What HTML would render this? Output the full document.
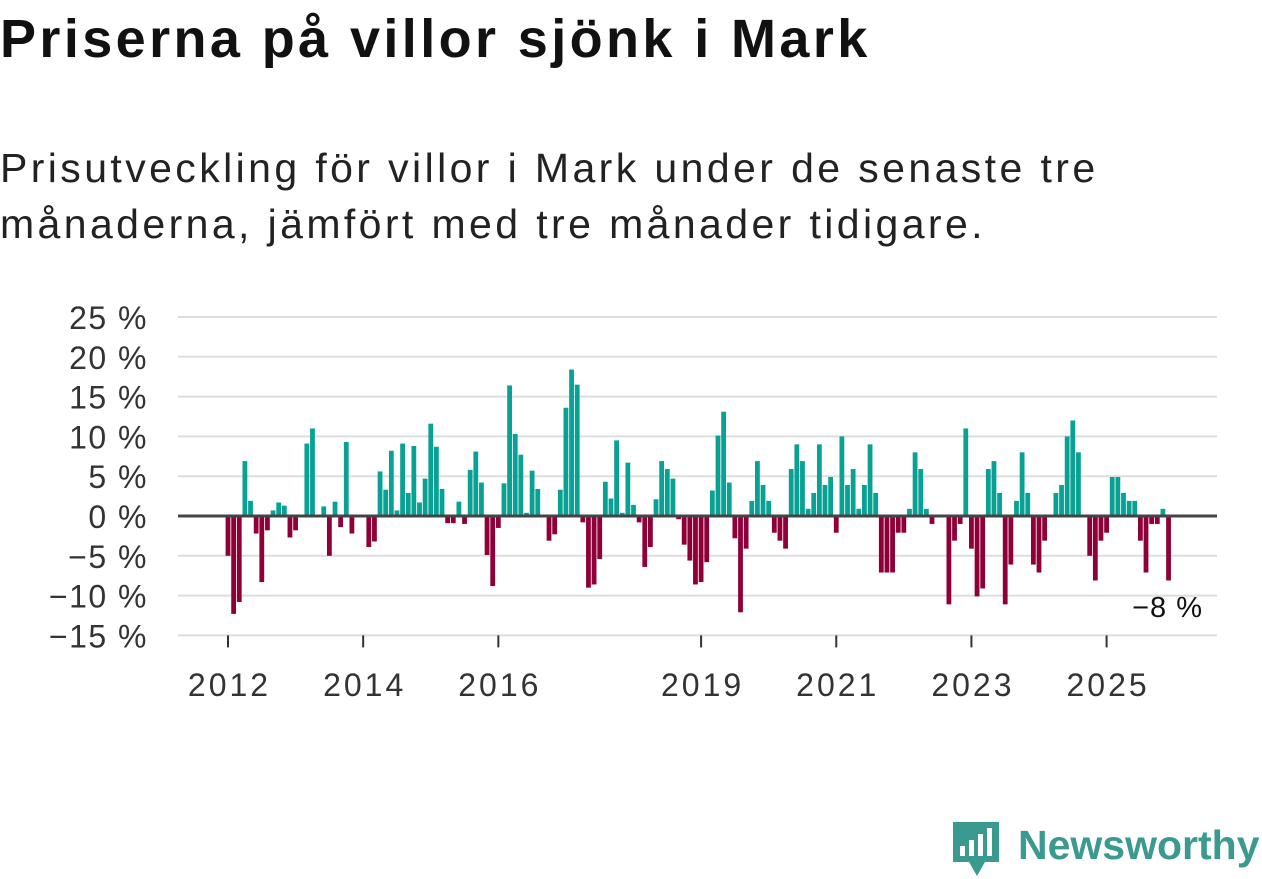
<!DOCTYPE html>
<html><head><meta charset="utf-8"><style>
body{margin:0;width:1262px;height:879px;background:#fff;font-family:"Liberation Sans",sans-serif;overflow:hidden;position:relative}
h1{position:absolute;left:0;top:8px;margin:0;font-size:54px;font-weight:bold;color:#111;letter-spacing:3.4px}
.sub{position:absolute;left:0;top:140px;margin:0;font-size:41px;line-height:56px;color:#222;letter-spacing:3.4px}
svg{position:absolute;left:0;top:0}
</style></head><body>
<h1>Priserna på villor sjönk i Mark</h1>
<p class="sub">Prisutveckling för villor i Mark under de senaste tre<br>månaderna, jämfört med tre månader tidigare.</p>
<svg id="chart" width="1262" height="879"></svg>
<script>
const startYear = 2012;
const values = [-5,-12.3,-10.8,6.9,1.9,-2.2,-8.3,-1.8,0.7,1.7,1.3,-2.7,-1.8,0,9.1,11.0,0,1.2,-5.0,1.8,-1.4,9.3,-2.2,0,0,-3.9,-3.2,5.6,3.3,8.2,0.7,9.1,2.9,8.8,1.7,4.7,11.6,8.7,3.4,-0.9,-0.9,1.8,-1.0,5.8,8.1,4.2,-4.9,-8.8,-1.5,4.1,16.4,10.3,7.7,0.4,5.7,3.4,0,-3.1,-2.3,3.3,13.6,18.4,16.5,-0.8,-9.0,-8.6,-5.4,4.3,2.2,9.5,0.4,6.7,1.4,-0.8,-6.4,-3.9,2.1,6.9,5.9,4.7,-0.4,-3.6,-5.6,-8.6,-8.3,-5.8,3.2,10.1,13.1,4.2,-2.8,-12.1,-4.1,1.9,6.9,3.9,1.9,-2.1,-3.1,-4.1,5.9,9.0,6.9,0.9,2.9,9.0,3.9,4.9,-2.1,10.0,3.9,5.9,0.9,3.9,9.0,2.9,-7.1,-7.1,-7.1,-2.1,-2.1,0.9,8.0,5.9,0.9,-1.0,0,0,-11.1,-3.1,-1.0,11.0,-4.1,-10.1,-9.1,5.9,6.9,2.9,-11.1,-6.1,1.9,8.0,2.9,-6.1,-7.1,-3.1,0,2.9,3.9,10.0,12.0,8.0,0,-5.0,-8.1,-3.1,-2.1,4.9,4.9,2.9,1.9,1.9,-3.1,-7.1,-1.0,-1.0,0.9,-8.1];
const yTicks = [25,20,15,10,5,0,-5,-10,-15];
const xTickYears = [2012,2014,2016,2019,2021,2023,2025];
const lastLabel = "−8 %";

const NS="http://www.w3.org/2000/svg";
const svg=document.getElementById('chart');
const y=v=>516-v*7.96;
const xm=i=>228+i*5.632;
const xy=yr=>xm((yr-startYear)*12);
function mk(t,a){const e=document.createElementNS(NS,t);for(const k in a)e.setAttribute(k,a[k]);svg.appendChild(e);return e;}
yTicks.forEach(t=>{
  if(t!==0){const g=mk('line',{x1:178,x2:1217,y1:y(t),y2:y(t),stroke:'#ddd','stroke-width':2});
  
  }
  const l=mk('text',{x:148,y:y(t)+12,'text-anchor':'end','font-size':32,'letter-spacing':1.5,fill:'#333','font-family':'Liberation Sans, sans-serif'});
  l.textContent=(t<0?'−'+(-t):t)+' %';
  
  
});
values.forEach((v,i)=>{
  const b=mk('rect',{x:xm(i)-2.4,width:4.8,y:v>=0?y(v):y(0),height:Math.abs(y(v)-y(0)),fill:v>=0?'#0aa195':'#8f0038'});
  
  
});
const z=mk('line',{x1:178,x2:1217,y1:y(0),y2:y(0),stroke:'#444','stroke-width':3});


xTickYears.forEach(yr=>{
  const tk=mk('line',{x1:xy(yr),x2:xy(yr),y1:y(-15),y2:y(-15)+12,stroke:'#333','stroke-width':2});
  
  
  const l=mk('text',{x:xy(yr)+1.5,y:696,'text-anchor':'middle','font-size':32,'letter-spacing':3,fill:'#333','font-family':'Liberation Sans, sans-serif'});
  l.textContent=yr;
  
  
});
const ll=mk('text',{x:1203,y:617,'text-anchor':'end','font-size':29,'letter-spacing':1,fill:'#111','font-family':'Liberation Sans, sans-serif'});
ll.textContent=lastLabel;


</script>
<svg width="1262" height="879" style="pointer-events:none">
<path d="M953 822 h46 v40 h-14 l-8 14 l-8 -14 h-16 z" fill="#3b9a8f"/>
<rect x="960" y="846" width="5" height="10" fill="#fff"/><rect x="969" y="840" width="5" height="16" fill="#fff"/><rect x="978" y="834" width="5" height="22" fill="#fff"/><rect x="987" y="828" width="5" height="28" fill="#fff"/>
<text x="1018" y="859" font-size="41" font-weight="bold" fill="#3b9a8f" font-family="Liberation Sans, sans-serif">Newsworthy</text>
</svg>
</body></html>
